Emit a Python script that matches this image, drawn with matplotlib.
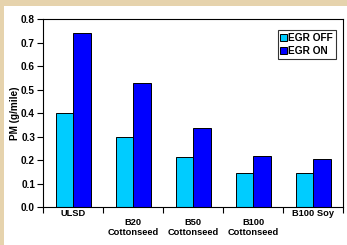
import numpy as np
import matplotlib
matplotlib.use("Agg")
import matplotlib.pyplot as plt
from matplotlib.patches import Rectangle
from matplotlib.transforms import blended_transform_factory, offset_copy

fuels = ["ULSD", "B20\nCottonseed", "B50\nCottonseed", "B100\nCottonseed", "B100 Soy"]
egr_off = [0.40, 0.297, 0.215, 0.147, 0.144]
egr_on = [0.74, 0.527, 0.339, 0.22, 0.205]
yticks = [0.0, 0.1, 0.2, 0.3, 0.4, 0.5, 0.6, 0.7, 0.8]

plt.rcParams['font.family'] = ['Liberation Sans', 'DejaVu Sans']
plt.rcParams['font.weight'] = 'bold'

fig = plt.figure(figsize=(3.47, 2.45), dpi=100)
fig.patch.set_facecolor('#e6d3ad')
# white panel behind the chart
fig.add_artist(Rectangle((4/347, 0), 1, 1 - 6/245, transform=fig.transFigure,
                         facecolor='white', edgecolor='none', zorder=-10))

ax = fig.add_axes([0.125, 0.154, 0.864, 0.768])
ax.set_facecolor('white')

x = np.arange(len(fuels)) + 0.5
w = 0.29
ax.bar(x - w/2, egr_off, w, color='#00ccff', edgecolor='black', linewidth=0.7, label='EGR OFF')
ax.bar(x + w/2, egr_on, w, color='#0000ff', edgecolor='black', linewidth=0.7, label='EGR ON')

ax.set_xlim(0, len(fuels))
ax.set_ylim(0, 0.8)
ax.set_yticks(yticks)
ax.set_yticklabels([f"{v:.1f}" for v in yticks])
ax.set_xticks(np.arange(len(fuels) + 1))
ax.set_xticklabels([])
ax.tick_params(axis='x', which='major', direction='out', length=4, width=0.8)
ax.tick_params(axis='y', direction='out', length=4, width=0.8, labelsize=7.2, pad=2)
for s in ax.spines.values():
    s.set_linewidth(0.8)

# category labels, Excel style: one-line labels sit higher than two-line ones
trans = blended_transform_factory(ax.transData, ax.transAxes)
for xi, name in zip(x, fuels):
    off = -4.5 if "\n" not in name else -14.5
    t = offset_copy(trans, fig=fig, y=off, units='points')
    ax.text(xi, 0, name, transform=t, ha='center', va='center',
            fontsize=6.7, fontweight='bold', linespacing=1.25)

ax.set_ylabel("PM (g/mile)", fontsize=7.2, fontweight='bold', labelpad=1)

leg = ax.legend(loc='upper right', bbox_to_anchor=(0.975, 0.94), fontsize=7.3,
                frameon=True, fancybox=False, edgecolor='black', borderpad=0.25,
                handlelength=0.65, handleheight=0.65, handletextpad=0.15,
                labelspacing=0.3, borderaxespad=0)
leg.get_frame().set_linewidth(0.8)

fig.savefig("out.png", dpi=100, facecolor=fig.get_facecolor())
